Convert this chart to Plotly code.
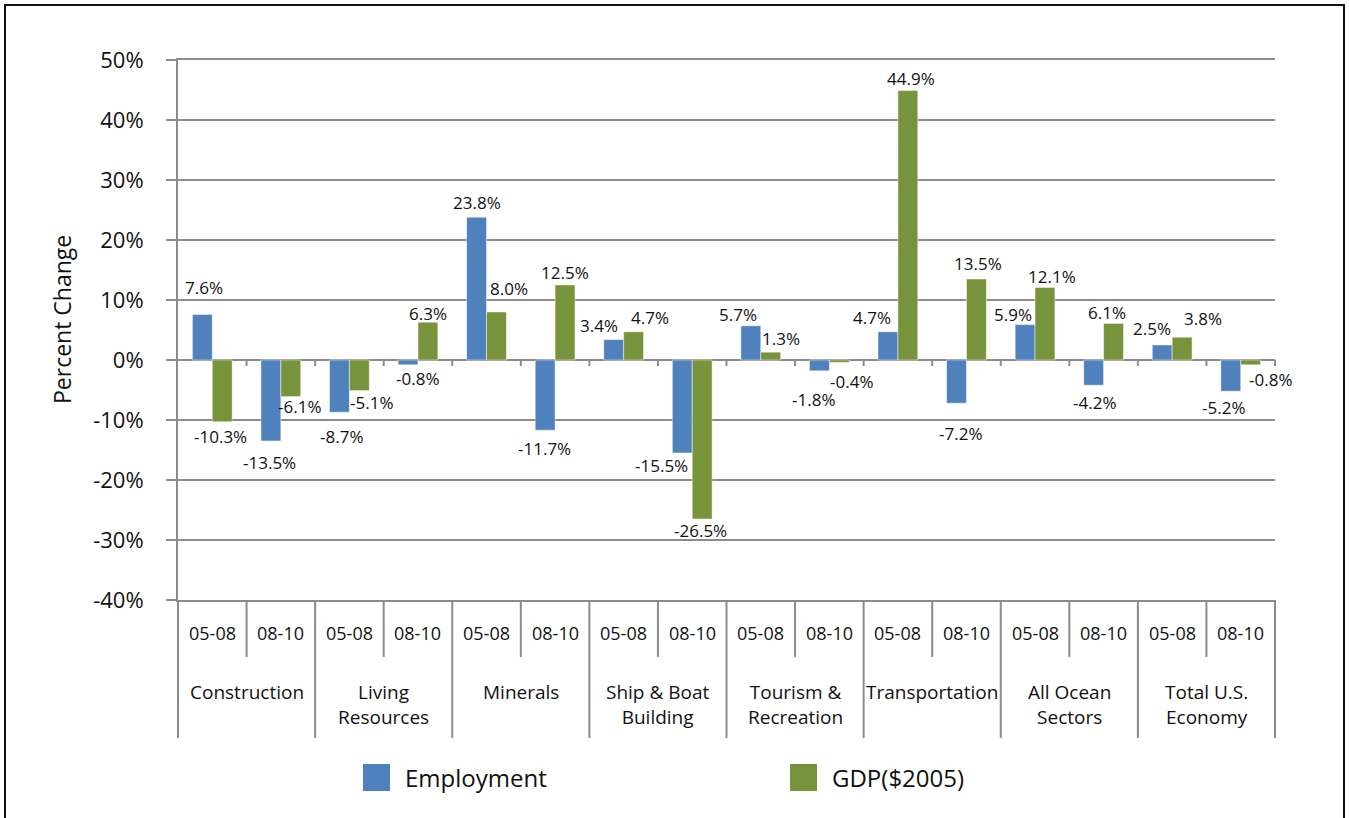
import plotly.graph_objects as go

# ---------------- data ----------------
sectors = ["Construction", "Living<br>Resources", "Minerals", "Ship & Boat<br>Building",
           "Tourism &<br>Recreation", "Transportation", "All Ocean<br>Sectors", "Total U.S.<br>Economy"]
periods = ["05-08", "08-10"]
employment = [7.6, -13.5, -8.7, -0.8, 23.8, -11.7, 3.4, -15.5, 5.7, -1.8, 4.7, -7.2, 5.9, -4.2, 2.5, -5.2]
gdp = [-10.3, -6.1, -5.1, 6.3, 8.0, 12.5, 4.7, -26.5, 1.3, -0.4, 44.9, 13.5, 12.1, 6.1, 3.8, -0.8]
series_names = ["Employment", "GDP($2005)"]
y_ticks = [-40, -30, -20, -10, 0, 10, 20, 30, 40, 50]
y_title = "Percent Change"

# ---------------- style ----------------
series_colors = ["#4F81BD", "#77933C"]
# data-label nudges in pixels (horizontal shift, distance of label centre from bar end)
emp_label_dx = [2, -1, 2, 9, 0, -1, -15, -21, -13, -6, -16, 4, -12, 1, -10, -7]
emp_label_gap = [27, 21, 24, 14, 15, 18, 14, 12, 11, 29, 14, 30, 10, 17, 17, 16]
gdp_label_dx = [-2, 9, 12, 0, 13, 0, 16, -2, 10, 12, 3, 2, 7, -7, 21, 20]
gdp_label_gap = [15, 10, 12, 9, 24, 13, 14, 11, 14, 19, 12, 16, 11, 11, 19, 15]

W, H = 1349, 818
L, T = 178, 60
R = W - 1275
B = H - 600
PW, PH = W - L - R, H - T - B
FONT = "Open Sans"
GRID = "#8c8c8c"
TXT = "#111111"
BARGAP = 0.42
ymin, ymax = y_ticks[0], y_ticks[-1]
n = len(sectors) * len(periods)


def px_x(p):
    return (p - L) / PW


def px_y(p):
    return (T + PH - p) / PH


x = list(range(n))
half = (1 - BARGAP) / 4  # centre offset of each bar in a pair
fig = go.Figure()
for name, vals, col in zip(series_names, [employment, gdp], series_colors):
    fig.add_trace(go.Bar(
        x=x, y=vals, name=name,
        marker=dict(color=col, line=dict(color="rgba(255,255,255,0.6)", width=0.8)),
        showlegend=False, hovertemplate="%{y:.1f}%<extra>" + name + "</extra>",
    ))

shapes = []
annotations = []

# data labels
for vals, dxs, gaps, sgn in [(employment, emp_label_dx, emp_label_gap, -1),
                             (gdp, gdp_label_dx, gdp_label_gap, 1)]:
    for i, v in enumerate(vals):
        annotations.append(dict(
            x=i + sgn * half, xref="x", y=v, yref="y", text=f"{v:.1f}%", showarrow=False,
            xanchor="center", yanchor="middle", xshift=dxs[i],
            yshift=gaps[i] if v >= 0 else -gaps[i],
            font=dict(family=FONT, size=17, color=TXT)))

# outer frame
shapes.append(dict(type="rect", xref="paper", yref="paper", x0=px_x(5), x1=px_x(1344),
                   y0=px_y(840), y1=px_y(5), line=dict(color="#111", width=2), layer="below"))

# category dividers below the axis
for k in range(n + 1):
    xp = k / n
    bottom = 738 if k % 2 == 0 else 657
    shapes.append(dict(type="line", xref="paper", yref="paper", x0=xp, x1=xp,
                       y0=0, y1=px_y(bottom), line=dict(color=GRID, width=2)))

# small tick marks on the zero line
zero_p = (0 - ymin) / (ymax - ymin)
for k in range(1, n + 1):
    xp = k / n
    shapes.append(dict(type="line", xref="paper", yref="paper", x0=xp, x1=xp,
                       y0=zero_p, y1=zero_p - 6 / PH, line=dict(color=GRID, width=2)))

# period labels
for i in range(n):
    annotations.append(dict(x=i, xref="x", y=px_y(633), yref="paper", text=periods[i % 2],
                            showarrow=False, xanchor="center", yanchor="middle",
                            font=dict(family=FONT, size=18, color=TXT)))
# sector labels
for g, s in enumerate(sectors):
    annotations.append(dict(x=2 * g + 0.5, xref="x", y=px_y(677), yref="paper", text=s,
                            showarrow=False, xanchor="center", yanchor="top",
                            font=dict(family=FONT, size=19, color=TXT)))

# y title
annotations.append(dict(x=px_x(62), xref="paper", y=px_y(320), yref="paper", text=y_title,
                        textangle=-90, showarrow=False, xanchor="center", yanchor="middle",
                        font=dict(family=FONT, size=23, color=TXT)))

# custom legend
legend_pos = [363, 790]
for name, col, lx in zip(series_names, series_colors, legend_pos):
    shapes.append(dict(type="rect", xref="paper", yref="paper", x0=px_x(lx), x1=px_x(lx + 27),
                       y0=px_y(791), y1=px_y(764), fillcolor=col, line=dict(width=0)))
    annotations.append(dict(x=px_x(lx + 40), xref="paper", y=px_y(777), yref="paper", text=name,
                            showarrow=False, xanchor="left", yanchor="middle",
                            font=dict(family=FONT, size=24, color=TXT)))

fig.update_layout(
    width=W, height=H, autosize=False,
    margin=dict(l=L, r=R, t=T, b=B, pad=0),
    paper_bgcolor="white", plot_bgcolor="white",
    barmode="group", bargap=BARGAP, bargroupgap=0,
    font=dict(family=FONT, color=TXT),
    shapes=shapes, annotations=annotations,
    xaxis=dict(range=[-0.5, n - 0.5], showticklabels=False, showgrid=False, zeroline=False,
               showline=True, mirror=True, linecolor=GRID, linewidth=2, ticks=""),
    yaxis=dict(range=[ymin, ymax], tickvals=y_ticks, ticktext=[f"{v}%" for v in y_ticks],
               showgrid=True, gridcolor=GRID, gridwidth=2, zeroline=True, zerolinecolor=GRID,
               zerolinewidth=2, showline=True, linecolor=GRID, linewidth=2,
               ticks="outside", ticklen=10, tickcolor=GRID, tickwidth=2, ticklabelstandoff=18,
               tickfont=dict(family=FONT, size=22, color=TXT)),
)

fig.write_html(
    "out.html",
    config={"displayModeBar": False},
    post_script="document.body.style.margin='0';document.body.style.overflow='hidden';",
)
